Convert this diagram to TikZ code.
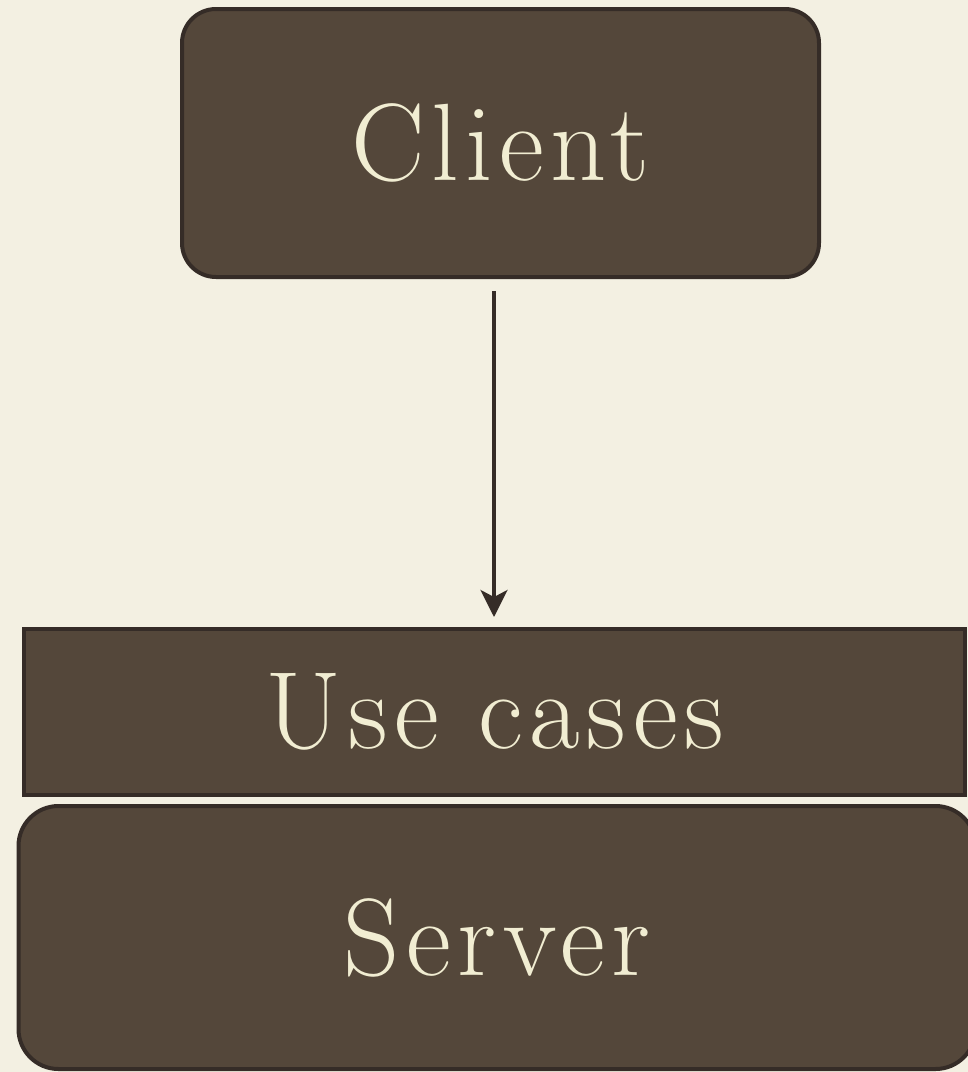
\documentclass[tikz,border=0pt]{standalone}
\usepackage{fontspec}
\usepackage{tikz}
\usetikzlibrary{arrows.meta}
\newfontfamily\layerfont{Latin Modern Roman}[LetterSpace=6.0]
\definecolor{paper}{HTML}{F3F0E2}
\definecolor{bark}{HTML}{54473A}
\definecolor{barkline}{HTML}{352C27}
\definecolor{cream}{HTML}{F1EDD2}

\begin{document}
\begin{tikzpicture}[x=1pt, y=-1pt,
    layer/.style={rectangle, draw=barkline, fill=bark, line width=4pt, text=cream, align=center,
        font=\layerfont\fontsize{110}{120}\selectfont},
    roundlayer/.style={layer, rounded corners=34pt}
]
    \fill[paper] (0,0) rectangle (968,1072);
    \useasboundingbox (0,0) rectangle (968,1072);

    \node[roundlayer, minimum width=637pt, minimum height=268pt] (client) at (500.5, 143) {Client};
    \node[layer, minimum width=941pt, minimum height=166pt] (usecases) at (494.5, 712) {Use cases};
    \node[roundlayer, minimum width=957pt, minimum height=263pt, rounded corners=40pt] (server) at (497, 937.5) {Server};

    \draw[-{Stealth[length=27pt, width=27pt, inset=7pt]}, line width=3.5pt, barkline, shorten <=12pt, shorten >=10pt] (client.south -| 494,0) -- (usecases.north -| 494,0);
\end{tikzpicture}
\end{document}
